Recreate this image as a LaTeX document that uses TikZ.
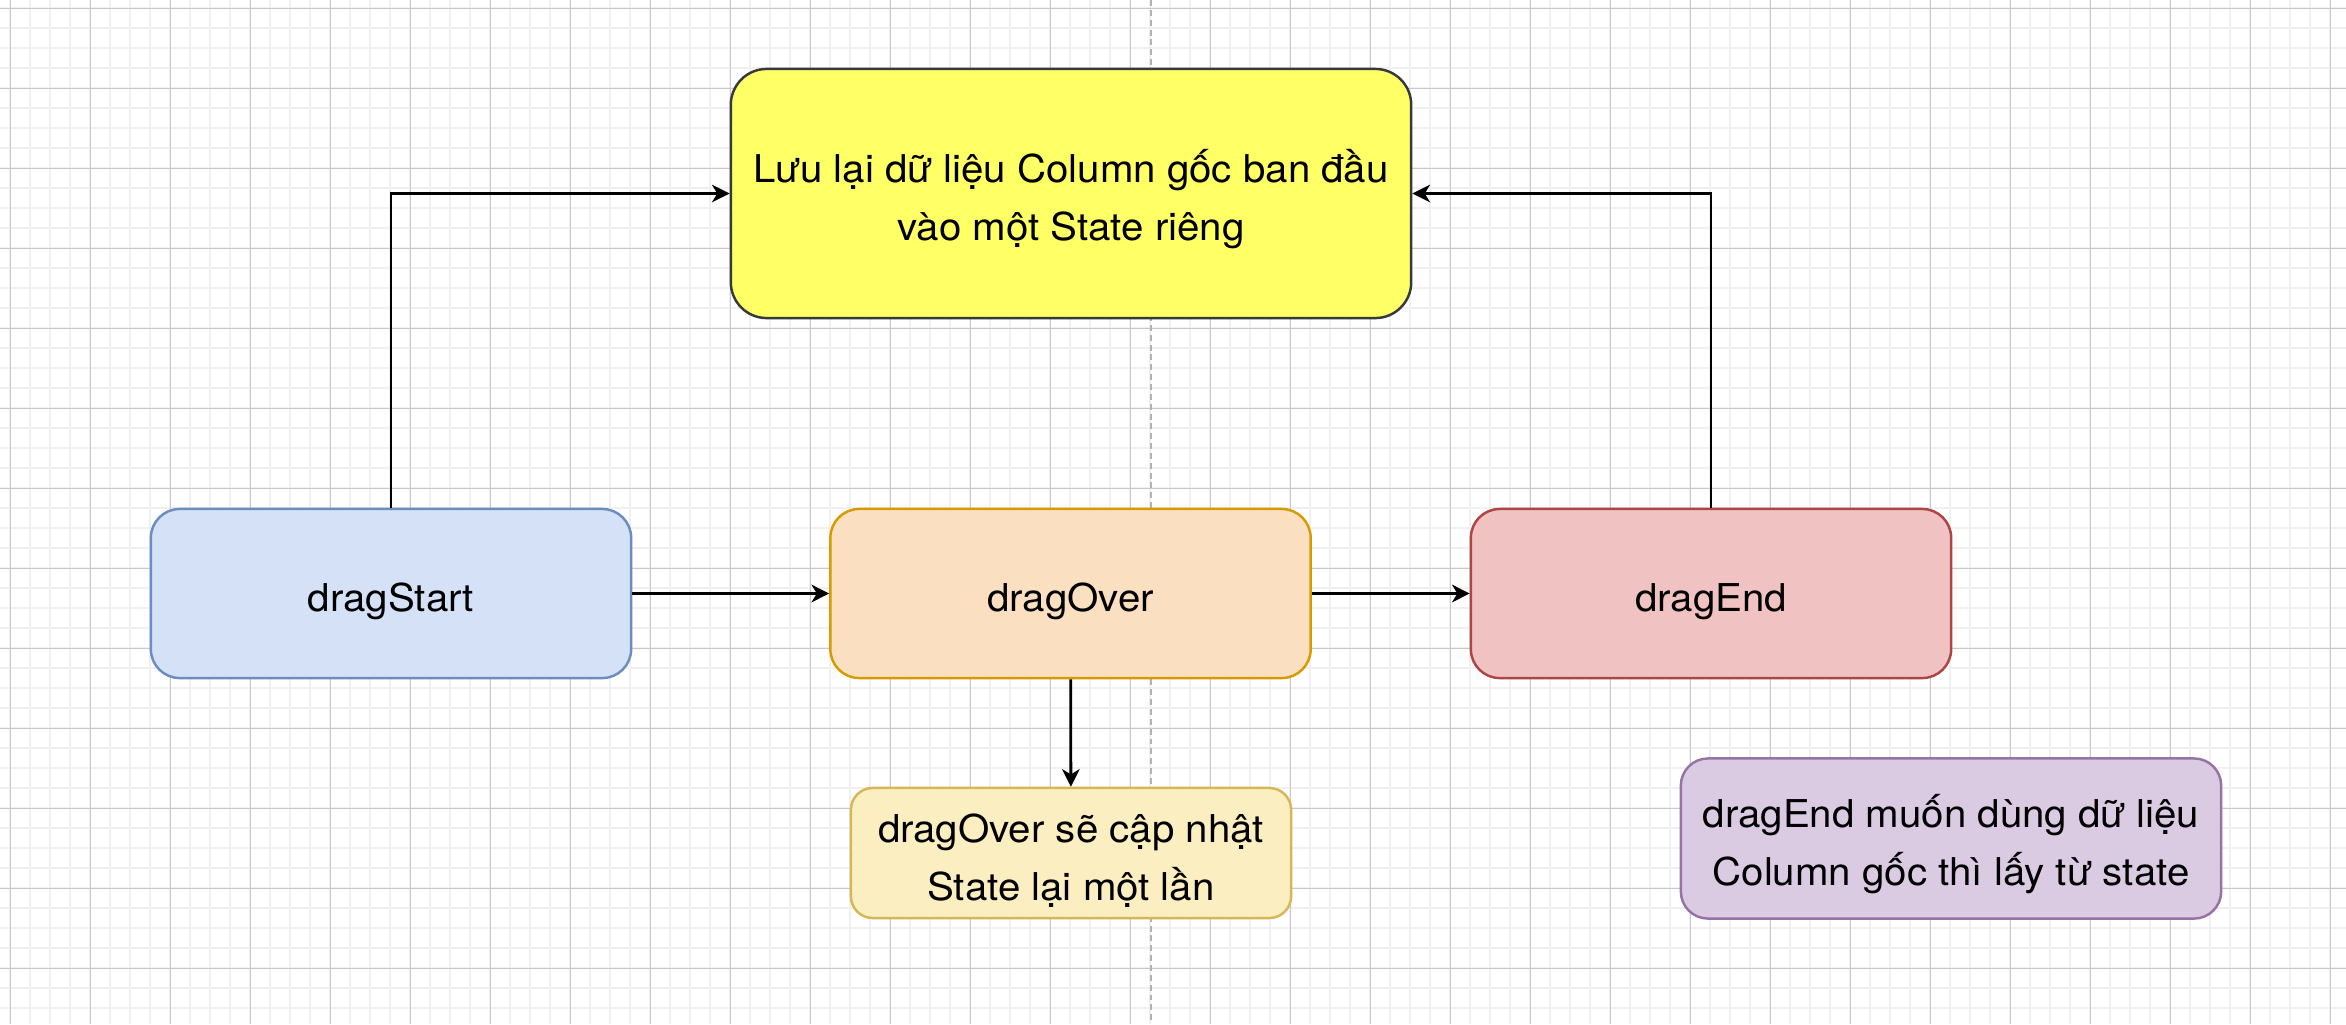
\documentclass[tikz,border=0pt]{standalone}
\usepackage{fontspec}
\setmainfont{TeX Gyre Heros}[FakeStretch=1.05]
\usetikzlibrary{arrows.meta}
\definecolor{cyellow}{HTML}{FFFF66}
\definecolor{cyellowline}{HTML}{36393D}
\definecolor{cblue}{HTML}{D4E1F7}
\definecolor{cblueline}{HTML}{6C8EBF}
\definecolor{corange}{HTML}{FADFC0}
\definecolor{corangeline}{HTML}{D79B00}
\definecolor{cred}{HTML}{F0C2C2}
\definecolor{credline}{HTML}{AE4545}
\definecolor{cnote}{HTML}{FBEFC2}
\definecolor{cnoteline}{HTML}{D6B656}
\definecolor{cpurple}{HTML}{DBCBE2}
\definecolor{cpurpleline}{HTML}{9673A6}

\begin{document}
\begin{tikzpicture}[x=0.01cm, y=-0.01cm,
  minorline/.style={line width=0.55pt, black!6},
  majorline/.style={line width=0.3pt, black!21},
  divider/.style={line width=0.55pt, black!30, dash pattern=on 1.7pt off 1.1pt},
  box/.style={draw, line width=0.7pt, rounded corners=8.2pt, inner sep=0pt,
    align=center, font=\fontsize{10.9}{16.5}\selectfont,
    text height=10.4pt, text depth=0pt,
    minimum width=4.8cm, minimum height=1.69cm},
  twolines/.style={text height=26.9pt},
  arrow/.style={line width=0.8pt, -{Stealth[length=5pt, width=5pt, inset=1.5pt]}}]
  \useasboundingbox (0, 0) rectangle (2346, 1024);
  \fill [white] (0, 0) rectangle (2346, 1024);

  \foreach \x in {10.3, 30.3, ..., 2346}
    \draw [minorline] (\x, 0) -- (\x, 1024);
  \foreach \y in {8.3, 28.3, ..., 1024}
    \draw [minorline] (0, \y) -- (2346, \y);
  \foreach \x in {10.3, 90.3, ..., 2346}
    \draw [majorline] (\x, 0) -- (\x, 1024);
  \foreach \y in {8.3, 88.3, ..., 1024}
    \draw [majorline] (0, \y) -- (2346, \y);
  \draw [divider] (1151, 0) -- (1151, 1024);

  \node (save) at (1071, 193.5) [box, twolines, fill=cyellow, draw=cyellowline,
    rounded corners=10.2pt, minimum width=6.8cm, minimum height=2.49cm]
    {Lưu lại dữ liệu Column gốc ban đầu\\vào một State riêng};

  \node (start) at (391, 593.5) [box, fill=cblue, draw=cblueline] {dragStart};
  \node (over) at (1070.5, 593.5) [box, fill=corange, draw=corangeline] {dragOver};
  \node (end) at (1711, 593.5) [box, fill=cred, draw=credline] {dragEnd};

  \node (overnote) at (1071, 853) [box, twolines, fill=cnote, draw=cnoteline,
    rounded corners=6.2pt, minimum width=4.4cm, minimum height=1.3cm]
    {dragOver sẽ cập nhật\\State lại một lần};
  \node (endnote) at (1951, 838.5) [box, twolines, fill=cpurple, draw=cpurpleline,
    rounded corners=7.7pt, minimum width=5.4cm, minimum height=1.6cm]
    {dragEnd muốn dùng dữ liệu\\Column gốc thì lấy từ state};

  \draw [arrow] (start.north) |- (save.west);
  \draw [arrow] (end.north) |- (save.east);
  \draw [arrow] (start) -- (over);
  \draw [arrow] (over) -- (end);
  \draw [arrow] (over) -- (overnote);
\end{tikzpicture}
\end{document}
